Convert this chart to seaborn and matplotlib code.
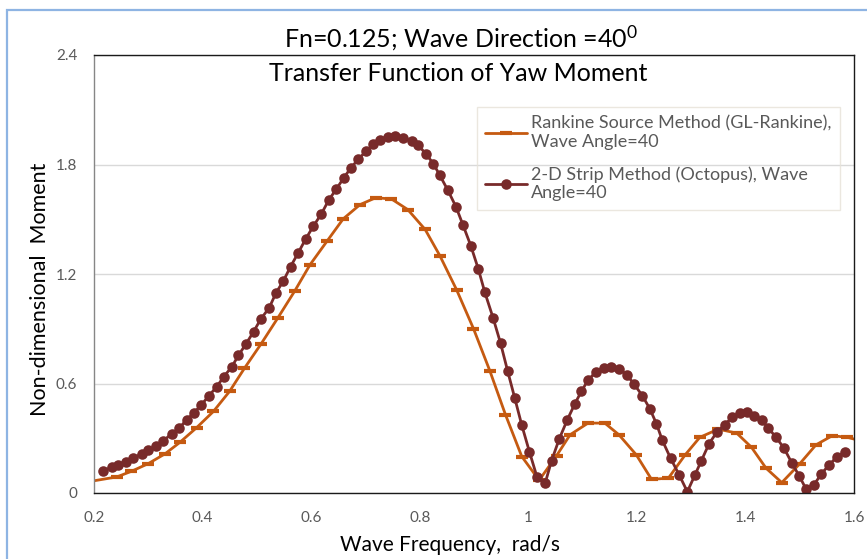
import matplotlib
matplotlib.use("Agg")
import matplotlib.pyplot as plt
import matplotlib.patches as mpatches
import pandas as pd
import seaborn as sns

# Rankine source method (GL-Rankine), wave angle 40
freq_rankine = [0.190, 0.242, 0.269, 0.300, 0.331, 0.358, 0.389, 0.420, 0.450, 0.477,
                0.508, 0.539, 0.570, 0.598, 0.630, 0.659, 0.690, 0.719, 0.748, 0.778,
                0.810, 0.837, 0.868, 0.899, 0.929, 0.958, 0.988, 1.020, 1.052, 1.077,
                1.110, 1.141, 1.167, 1.199, 1.227, 1.258, 1.289, 1.316, 1.350, 1.384,
                1.411, 1.438, 1.467, 1.500, 1.530, 1.560, 1.588, 1.620]
moment_rankine = [0.062, 0.088, 0.119, 0.161, 0.215, 0.277, 0.358, 0.447, 0.558, 0.683,
                  0.818, 0.961, 1.108, 1.251, 1.383, 1.502, 1.580, 1.618, 1.611, 1.553,
                  1.444, 1.301, 1.113, 0.901, 0.671, 0.429, 0.200, 0.070, 0.204, 0.319,
                  0.383, 0.383, 0.319, 0.209, 0.075, 0.081, 0.209, 0.305, 0.350, 0.328,
                  0.251, 0.136, 0.057, 0.160, 0.264, 0.314, 0.305, 0.280]

# 2-D strip method (Octopus), wave angle 40
freq_octopus = [0.217, 0.233, 0.245, 0.259, 0.272, 0.288, 0.300, 0.315, 0.328, 0.343,
                0.357, 0.371, 0.384, 0.398, 0.412, 0.426, 0.439, 0.454, 0.466, 0.480,
                0.494, 0.507, 0.523, 0.535, 0.549, 0.562, 0.576, 0.590, 0.604, 0.619,
                0.632, 0.646, 0.660, 0.673, 0.687, 0.701, 0.714, 0.727, 0.742, 0.754,
                0.770, 0.785, 0.797, 0.811, 0.825, 0.837, 0.852, 0.867, 0.880, 0.894,
                0.908, 0.920, 0.935, 0.949, 0.962, 0.975, 0.988, 1.002, 1.016, 1.031,
                1.043, 1.057, 1.072, 1.086, 1.098, 1.110, 1.124, 1.139, 1.153, 1.167,
                1.181, 1.194, 1.210, 1.224, 1.236, 1.247, 1.262, 1.278, 1.293, 1.307,
                1.319, 1.333, 1.347, 1.362, 1.376, 1.390, 1.402, 1.415, 1.430, 1.442,
                1.456, 1.471, 1.485, 1.499, 1.512, 1.526, 1.540, 1.554, 1.568, 1.583]
moment_octopus = [0.123, 0.141, 0.154, 0.172, 0.191, 0.215, 0.233, 0.259, 0.286, 0.325,
                  0.356, 0.402, 0.439, 0.484, 0.534, 0.582, 0.637, 0.692, 0.754, 0.817,
                  0.884, 0.952, 1.016, 1.095, 1.163, 1.240, 1.315, 1.392, 1.462, 1.530,
                  1.603, 1.664, 1.726, 1.781, 1.829, 1.873, 1.910, 1.933, 1.952, 1.958,
                  1.945, 1.928, 1.906, 1.860, 1.805, 1.741, 1.658, 1.567, 1.466, 1.356,
                  1.227, 1.099, 0.961, 0.820, 0.668, 0.521, 0.372, 0.227, 0.088, 0.053,
                  0.178, 0.296, 0.402, 0.490, 0.558, 0.618, 0.662, 0.686, 0.692, 0.681,
                  0.649, 0.600, 0.534, 0.461, 0.380, 0.288, 0.191, 0.099, 0.007, 0.099,
                  0.178, 0.270, 0.332, 0.374, 0.417, 0.439, 0.442, 0.424, 0.398, 0.356,
                  0.307, 0.246, 0.167, 0.094, 0.020, 0.044, 0.105, 0.154, 0.196, 0.227]

label_rankine = "Rankine Source Method (GL-Rankine),\nWave Angle=40"
label_octopus = "2-D Strip Method (Octopus), Wave\nAngle=40"
x_ticks = [0.2, 0.4, 0.6, 0.8, 1.0, 1.2, 1.4, 1.6]
x_tick_labels = ["0.2", "0.4", "0.6", "0.8", "1", "1.2", "1.4", "1.6"]
y_ticks = [0, 0.6, 1.2, 1.8, 2.4]
y_tick_labels = ["0", "0.6", "1.2", "1.8", "2.4"]

ORANGE = "#C55A11"
DARKRED = "#782A2A"
GREY_TXT = "#595959"

sns.set_theme(style="white")
plt.rcParams["font.family"] = ["Lato", "DejaVu Sans"]
plt.rcParams["mathtext.fontset"] = "custom"
plt.rcParams["mathtext.rm"] = "Lato"
plt.rcParams["mathtext.it"] = "Lato"

df_r = pd.DataFrame({"freq": freq_rankine, "moment": moment_rankine})
df_o = pd.DataFrame({"freq": freq_octopus, "moment": moment_octopus})

fig = plt.figure(figsize=(8.67, 5.59), dpi=100)
ax = fig.add_axes([94 / 867, 66 / 559, 760 / 867, 438 / 559])

sns.lineplot(data=df_r, x="freq", y="moment", ax=ax, color=ORANGE, linewidth=2.0,
             marker="_", markersize=8, markeredgewidth=3, markeredgecolor=ORANGE,
             estimator=None, sort=False, label=label_rankine)
sns.lineplot(data=df_o, x="freq", y="moment", ax=ax, color=DARKRED, linewidth=2.0,
             marker="o", markersize=7.6, markeredgewidth=0, markerfacecolor=DARKRED,
             estimator=None, sort=False, label=label_octopus)

ax.set_xlim(0.2, 1.6)
ax.set_ylim(0, 2.4)
ax.set_xticks(x_ticks)
ax.set_xticklabels(x_tick_labels)
ax.set_yticks(y_ticks)
ax.set_yticklabels(y_tick_labels)
ax.tick_params(axis="both", length=0, labelsize=11, labelcolor=GREY_TXT)
ax.tick_params(axis="y", pad=12)
ax.tick_params(axis="x", pad=13)
ax.yaxis.grid(True, color="#D9D9D9", linewidth=1)
ax.xaxis.grid(False)
ax.set_axisbelow(True)

for side in ["top", "right", "bottom"]:
    ax.spines[side].set_color("#1a1a1a")
    ax.spines[side].set_linewidth(1.0)
ax.spines["left"].set_color("#868686")
ax.spines["left"].set_linewidth(1.0)

ax.set_xlabel("Wave Frequency,  rad/s", fontsize=15, color="black")
ax.set_ylabel("Non-dimensional  Moment", fontsize=15.5, color="black")
ax.xaxis.set_label_coords(0.468, -0.119)
ax.xaxis.label.set_va("center")
ax.yaxis.set_label_coords(-0.071, 0.465)
ax.yaxis.label.set_va("center")

ax.text(0.479, 0.957, "Transfer Function of Yaw Moment", transform=ax.transAxes,
        ha="center", va="center", fontsize=18, color="black")
fig.text(461 / 867, 1 - 38 / 559, "Fn=0.125; Wave Direction =40$^{0}$",
         ha="center", va="center", fontsize=18, color="black")

leg = ax.legend(loc="upper left", bbox_to_anchor=(0.504, 0.881), borderaxespad=0,
                fontsize=13, frameon=True, handlelength=2.3, handletextpad=0.25,
                labelspacing=0.9, borderpad=0.45, fancybox=False, numpoints=1)
leg.get_frame().set_facecolor("none")
leg.get_frame().set_edgecolor("#E6E2D8")
leg.get_frame().set_linewidth(1.0)
for t in leg.get_texts():
    t.set_color(GREY_TXT)

border = mpatches.Rectangle((7 / 867, -0.1), 1.2, 1.1 - 10 / 559, transform=fig.transFigure,
                            fill=False, edgecolor="#8EB4E3", linewidth=1.6)
fig.patches.append(border)

fig.savefig("out.png", dpi=100)
